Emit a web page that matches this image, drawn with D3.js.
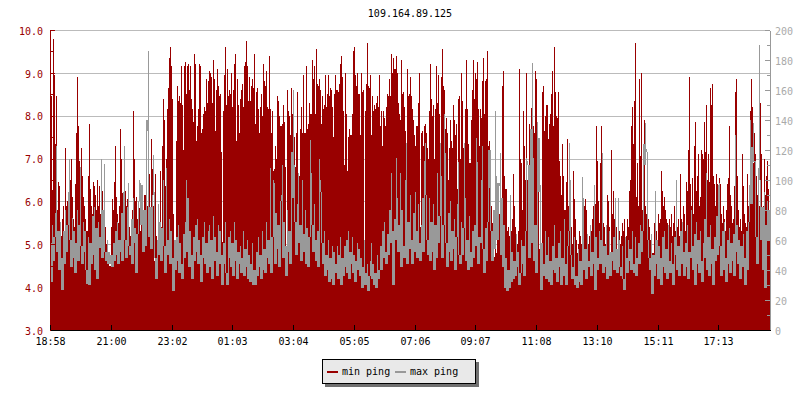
<!DOCTYPE html>
<html>
<head>
<meta charset="utf-8">
<style>
html,body{margin:0;padding:0;background:#fff}
svg{display:block}
text{font-family:"DejaVu Sans Mono",monospace;font-size:10px}
</style>
<script src="https://cdn.jsdelivr.net/npm/d3@7/dist/d3.min.js"></script>
</head>
<body>
<svg id="c" width="800" height="400"></svg>
<script>
const title = "109.164.89.125";
const seriesNames = ["min ping", "max ping"];
const timeLabels = ["18:58","21:00","23:02","01:03","03:04","05:05","07:06","09:07","11:08","13:10","15:11","17:13"];
const timeIndexes = [0,61,122,182,243,304,365,425,486,547,608,668];
const leftTicks = [3,4,5,6,7,8,9,10];
const leftMinorTicks = [3.5,4.5,5.5,6.5,7.5,8.5,9.5];
const rightTicks = [0,20,40,60,80,100,120,140,160,180,200];
const rightMinorTicks = [10,30,50,70,90,110,130,150,170,190];

const minPing = [
5.5,8.45,6.26,9.8,8.95,7.35,8.47,5.8,6.45,6.35,
5.5,5.2,5.6,5.9,5.3,7.25,5.9,6.02,5.7,5.95,
6.5,7.0,6.1,5.6,5.4,6.4,7.6,8.9,7.75,6.95,
5.9,7.25,6.6,6.1,5.9,5.6,5.3,5.3,6.6,7.8,
6.3,5.9,5.7,6.45,6.35,6.15,5.8,6.5,5.9,6.35,
5.7,5.9,6.25,5.6,5.9,5.4,5.0,4.8,4.6,4.5,
4.5,5.4,6.05,5.8,6.45,7.3,6.1,5.7,5.5,5.9,
7.7,7.0,6.2,5.95,6.0,6.25,5.9,6.05,5.7,5.4,
5.2,5.2,5.8,8.1,7.0,6.0,6.1,5.6,5.9,5.85,
5.3,6.35,5.8,5.5,6.15,6.15,5.95,5.9,5.8,6.65,
5.5,7.45,6.75,5.9,4.6,6.65,5.2,5.0,5.6,5.3,
6.7,5.4,7.3,8.4,7.9,6.35,7.0,8.15,8.65,9.35,
9.6,9.15,8.4,5.7,5.1,5.0,7.4,8.7,8.35,8.45,
8.3,9.15,8.25,7.2,9.15,9.25,8.5,9.15,9.2,8.6,
9.15,8.4,8.15,7.85,9.45,9.2,7.4,7.75,8.15,9.2,
9.15,7.6,7.7,8.05,8.2,8.1,8.85,8.3,8.8,9.05,
9.0,8.9,8.3,9.3,8.85,7.65,8.6,9.1,8.7,8.45,
8.5,7.15,5.05,8.1,8.95,9.6,8.25,9.1,8.45,8.6,
8.5,9.0,8.2,8.6,9.2,9.45,7.4,8.85,8.25,7.6,
8.4,8.6,8.75,8.2,9.15,9.25,9.75,9.15,8.35,8.9,
8.35,8.7,8.85,8.65,9.45,7.8,8.55,8.65,8.15,7.6,
8.2,8.5,8.0,9.2,8.8,8.7,9.05,8.2,8.15,9.4,
8.15,7.6,8.1,6.7,6.75,7.3,7.0,8.45,8.35,8.0,
7.75,7.75,7.8,8.25,7.85,6.8,4.4,8.6,8.1,8.0,
7.55,8.65,8.05,8.6,7.5,6.8,7.6,8.55,6.5,6.6,
7.7,8.2,7.6,8.95,7.6,7.6,9.15,7.7,7.8,8.3,
8.05,8.05,9.3,8.85,9.15,8.05,9.55,8.75,8.7,8.85,
8.6,7.8,8.45,8.15,8.25,8.95,8.2,8.5,8.95,8.45,
8.65,8.6,8.2,7.5,8.5,8.95,8.6,8.6,8.55,8.75,
9.2,9.4,8.9,8.1,6.85,9.0,8.05,6.7,7.5,7.7,
7.55,7.55,8.05,9.5,9.6,8.95,8.7,9.0,8.5,8.5,
7.55,9.0,8.55,8.6,4.9,8.1,8.75,9.7,8.7,8.65,
8.95,7.55,8.45,8.1,8.25,8.15,8.3,8.45,8.2,8.95,
7.75,8.1,7.3,8.1,7.95,7.75,8.2,8.5,8.45,8.85,
8.45,9.45,9.0,9.35,9.1,9.1,9.4,9.0,8.3,8.05,
7.9,9.3,8.5,8.55,8.2,7.65,7.35,9.1,8.45,8.5,
8.9,8.45,8.15,7.9,7.55,7.3,7.75,7.75,8.3,9.0,
5.4,7.6,7.65,7.3,7.75,7.8,7.6,7.25,7.0,8.1,
9.2,8.4,8.0,8.25,7.0,8.15,9.15,8.3,8.95,8.05,
7.2,8.9,9.55,8.7,8.6,7.7,7.95,7.6,6.5,7.25,
7.9,7.4,7.25,8.25,7.9,7.55,7.8,6.3,8.4,8.45,
7.0,9.0,8.35,7.25,6.8,8.15,9.3,8.15,7.35,6.9,
6.9,7.9,8.6,9.3,8.4,9.0,8.85,9.25,8.15,7.3,
8.15,7.95,8.8,9.35,8.05,8.8,8.85,9.5,7.3,7.4,
6.65,5.9,5.5,5.4,4.7,5.0,4.8,5.8,5.3,5.7,
7.1,5.8,8.7,9.05,6.6,6.3,6.3,5.3,5.4,5.2,
5.5,5.3,5.6,6.65,5.9,5.4,5.0,5.0,5.3,9.1,
7.0,6.9,5.8,8.1,7.3,6.5,9.0,6.5,6.75,7.8,
7.35,8.17,7.0,7.75,7.6,9.05,8.85,7.85,6.65,4.9,
4.9,5.0,8.55,8.7,7.65,8.0,8.25,8.25,7.45,7.8,
8.05,8.5,9.05,7.75,9.6,8.55,8.0,7.95,8.55,6.95,
6.6,6.15,7.35,6.6,5.8,5.8,6.45,7.45,5.9,5.6,
5.5,5.4,5.0,6.7,6.05,5.6,5.1,4.8,5.0,5.3,
5.2,5.0,5.1,5.5,5.9,6.05,5.8,5.1,5.0,5.2,
5.4,5.3,5.6,5.9,5.8,5.95,7.75,6.95,6.0,5.5,
6.9,7.75,5.9,5.5,5.4,5.0,5.3,6.15,6.0,5.4,
4.3,7.2,5.7,6.25,5.6,5.5,5.4,4.6,5.1,5.3,
5.0,5.2,5.5,5.3,5.6,5.1,5.2,5.6,5.4,6.25,
6.5,7.75,8.2,7.35,8.35,9.7,6.1,6.9,5.9,8.85,
7.05,9.0,5.8,5.6,7.9,5.9,5.7,5.5,5.6,5.4,
5.1,4.9,4.8,4.8,5.5,5.6,5.3,5.1,5.7,5.5,
5.6,6.7,6.25,5.9,6.1,5.8,5.6,5.5,5.3,5.6,
5.4,5.7,5.2,5.5,5.9,5.3,5.1,5.4,5.6,5.2,
6.65,5.6,5.4,5.9,5.7,5.3,6.45,6.25,7.2,8.9,
6.4,5.9,6.55,5.7,7.3,7.85,6.25,6.6,7.1,5.9,
6.1,7.2,7.1,7.0,7.85,7.15,8.25,6.5,7.1,6.45,
8.65,8.25,8.75,6.6,6.4,5.9,6.65,6.4,5.8,6.55,
6.4,5.7,5.5,5.9,5.6,5.3,5.8,6.4,6.55,7.75,
6.15,5.9,5.5,5.6,6.35,8.55,8.85,6.6,5.8,5.4,
5.6,5.3,7.1,6.35,5.7,5.5,5.4,6.65,5.9,5.6,
8.1,8.85,8.2,6.9,7.6,7.1,6.6,6.15,6.6,5.9,
8.3,7.1,5.7,5.9,7.0,6.15,6.6,6.95,6.3,5.7
];

const maxPing = [
58,32,70,46,62,78,123,52,66,40,
72,48,27,66,44,80,52,70,92,114,
60,42,75,48,66,38,58,80,46,70,
109,56,44,72,52,66,40,31,62,30,
58,44,76,50,82,40,68,34,72,55,
62,114,48,80,111,52,46,60,44,52,
44,50,42,58,46,66,50,72,44,60,
52,78,46,92,123,60,48,82,98,56,
50,74,44,88,58,68,38,64,86,100,
98,70,97,52,80,56,140,133,186,62,
82,54,90,117,92,48,34,60,84,50,
72,46,68,100,56,38,108,60,50,74,
44,66,48,26,60,40,62,46,70,38,
58,44,34,64,48,72,100,52,88,42,
66,50,34,62,46,70,52,74,44,60,
50,32,62,48,72,44,58,38,66,70,
42,60,34,76,46,62,52,36,70,44,
66,50,30,58,44,72,38,30,62,48,
66,42,58,36,72,46,60,34,52,44,
56,38,48,66,36,54,42,60,34,50,
32,44,58,30,40,30,52,36,62,42,
50,34,66,40,54,38,72,48,60,44,
108,38,62,100,98,44,78,54,70,42,
86,90,110,48,72,56,36,80,52,66,
44,119,88,160,110,72,50,84,105,58,
70,46,100,64,52,80,44,68,42,62,
127,105,70,52,84,60,46,66,42,114,
100,92,58,44,66,36,50,40,60,32,
48,34,56,30,52,44,38,56,34,50,
62,30,48,36,56,42,60,38,66,34,
52,44,62,38,50,32,46,58,40,54,
36,48,28,42,60,30,38,44,26,36,
46,58,34,44,30,38,28,50,34,40,
56,40,66,48,72,52,44,64,50,80,
58,105,66,30,74,60,115,88,52,70,
105,42,80,56,48,100,125,44,72,54,
90,60,44,78,52,92,66,48,84,58,
46,70,88,52,113,125,90,60,50,88,
46,72,52,84,40,70,48,105,58,76,
125,103,48,70,144,118,58,42,78,52,
86,46,66,54,74,40,62,84,112,50,
44,72,50,68,125,88,46,60,40,76,
52,42,66,48,70,56,128,112,44,62,
58,100,123,54,38,68,46,72,120,95,
120,66,46,80,54,146,103,60,98,96,
118,50,88,42,70,28,48,26,40,28,
90,32,52,34,46,36,64,42,52,30,
38,60,44,56,36,66,115,113,110,48,
134,58,178,115,46,70,38,139,92,128,
97,27,58,44,36,66,34,50,62,32,
46,30,56,40,70,38,48,32,58,42,
66,30,48,36,74,44,30,56,66,125,
100,50,34,42,62,30,36,28,54,32,
46,30,102,88,40,54,34,64,46,42,
70,36,52,44,97,27,62,40,48,66,
44,60,118,38,56,42,70,34,50,66,
36,52,46,62,40,88,54,38,88,60,
42,36,56,34,27,62,48,38,60,46,
54,40,66,44,38,62,36,48,58,44,
70,52,66,124,110,138,121,119,60,48,
40,64,24,50,36,93,44,60,34,56,
48,30,62,42,66,38,54,34,70,46,
38,58,44,30,62,50,100,40,56,36,
66,44,72,52,36,58,42,70,34,52,
48,80,56,40,64,30,72,44,60,38,
66,46,32,58,74,48,105,40,62,36,
70,44,54,30,62,46,76,50,97,98,
56,36,66,40,72,48,32,60,44,68,
38,58,46,64,36,130,52,70,44,60,
34,56,42,64,48,30,66,40,72,97,
140,84,122,138,112,113,62,44,108,190,
100,60,82,40,92,28,70,86,60,80
];

const RED = "#990000", GREY = "#999999", GRID = "#bbbbbb";
const svg = d3.select("#c");

const x = d3.scaleLinear().domain([0, 720]).range([50, 770]);
const yL = d3.scaleLinear().domain([3, 10]).range([330, 30]);
const yR = d3.scaleLinear().domain([0, 200]).range([330, 30]);

// title
svg.append("text").attr("x", 410).attr("y", 17).attr("text-anchor", "middle").attr("fill", "#000").text(title);

// grid
svg.append("g").attr("shape-rendering", "crispEdges").selectAll("line").data(leftTicks.slice(1)).join("line")
  .attr("x1", x(0)).attr("x2", x(720))
  .attr("y1", d => yL(d) + 0.5).attr("y2", d => yL(d) + 0.5)
  .attr("stroke", GRID);

// min ping columns
svg.append("g").attr("shape-rendering", "crispEdges").attr("fill", RED)
  .selectAll("rect").data(minPing).join("rect")
  .attr("x", (d, i) => x(i)).attr("width", x(1) - x(0))
  .attr("y", d => yL(d)).attr("height", d => yL(3) - yL(d));

// max ping: jagged trace; a column covers its own sample and the nearer of its neighbours,
// so isolated peaks stay one pixel wide while the band stays solid
const traceSpan = (d, i) => {
  const nb = Math.min(maxPing[i - 1] ?? d, maxPing[i + 1] ?? d);
  return [Math.min(d, nb), Math.max(d, nb)];
};
svg.append("g").attr("shape-rendering", "crispEdges").attr("fill", GREY)
  .selectAll("rect").data(maxPing).join("rect")
  .attr("x", (d, i) => x(i)).attr("width", x(1) - x(0))
  .attr("y", (d, i) => yR(traceSpan(d, i)[1]))
  .attr("height", (d, i) => {
    const [lo, hi] = traceSpan(d, i);
    return Math.max(1, yR(lo) - yR(hi));
  });

// axes
function styleAxis(g, colour, textColour) {
  g.attr("shape-rendering", "crispEdges");
  g.selectAll("path").attr("stroke", colour);
  g.selectAll("line").attr("stroke", colour);
  g.selectAll("text").attr("fill", textColour)
    .attr("font-family", '"DejaVu Sans Mono",monospace').attr("font-size", 10);
}
const gLeftMinor = svg.append("g").attr("transform", `translate(${x(0)},0)`)
  .call(d3.axisLeft(yL).tickValues(leftMinorTicks).tickSize(-3).tickSizeOuter(0).tickFormat(""));
styleAxis(gLeftMinor, RED, RED);
const gLeft = svg.append("g").attr("transform", `translate(${x(0)},0)`)
  .call(d3.axisLeft(yL).tickValues(leftTicks).tickSize(-5).tickSizeOuter(0).tickPadding(7).tickFormat(d3.format(".1f")));
styleAxis(gLeft, RED, RED);
gLeft.selectAll("text").attr("dy", "0.42em");

const gRightMinor = svg.append("g").attr("transform", `translate(${x(720)},0)`)
  .call(d3.axisRight(yR).tickValues(rightMinorTicks).tickSize(-3).tickSizeOuter(0).tickFormat(""));
styleAxis(gRightMinor, GREY, GREY);
const gRight = svg.append("g").attr("transform", `translate(${x(720)},0)`)
  .call(d3.axisRight(yR).tickValues(rightTicks).tickSize(-5).tickSizeOuter(0).tickPadding(5));
styleAxis(gRight, GREY, "#aaaaaa");
gRight.selectAll("text").attr("dy", "0.42em");

const gBottom = svg.append("g").attr("transform", `translate(0,${yL(3)})`)
  .call(d3.axisBottom(x).tickValues(timeIndexes).tickSize(-5).tickSizeOuter(0).tickPadding(8)
    .tickFormat((d, i) => timeLabels[i]));
styleAxis(gBottom, "#000", "#000");

// legend
const lg = svg.append("g").attr("shape-rendering", "crispEdges");
lg.append("rect").attr("x", 325).attr("y", 362).attr("width", 154).attr("height", 25).attr("fill", "#707070");
lg.append("rect").attr("x", 322.5).attr("y", 359.5).attr("width", 153).attr("height", 24)
  .attr("fill", "#e9e9e9").attr("stroke", "#000");
const legendX = [327, 395];
seriesNames.forEach((name, i) => {
  lg.append("rect").attr("x", legendX[i]).attr("y", 371).attr("width", 11).attr("height", 2)
    .attr("fill", i ? GREY : RED);
  lg.append("text").attr("x", legendX[i] + 15).attr("y", 375).attr("fill", "#000").text(name);
});
</script>
</body>
</html>
